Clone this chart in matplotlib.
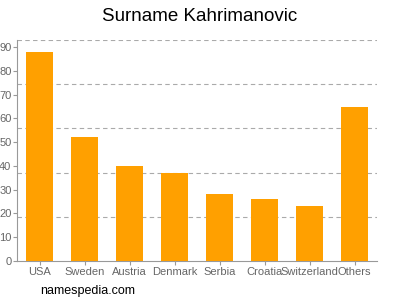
import numpy as np
import matplotlib.pyplot as plt

plt.rcParams["font.family"] = ["Liberation Sans", "DejaVu Sans"]

countries = ["USA", "Sweden", "Austria", "Denmark", "Serbia", "Croatia", "Switzerland", "Others"]
counts = [88, 52, 40, 37, 28, 26, 23, 65]

ymax = 93
fig = plt.figure(figsize=(4, 3), dpi=100)
ax = fig.add_axes([0.0425, 0.13, 0.9, 0.7367])

x = np.arange(len(countries))
ax.bar(x, counts, width=0.62, color="#ffa000", zorder=3)

ax.set_xlim(-0.5, len(countries) - 0.5)
ax.set_ylim(0, ymax)
ax.set_yticks(range(0, 91, 10))
ax.set_xticks(x)
ax.set_xticklabels(countries)

for k in range(1, 6):
    ax.axhline(ymax * k / 5, color="#aaaaaa", linestyle=(0, (4, 3)), linewidth=0.8, zorder=1)

for s in ["top", "right"]:
    ax.spines[s].set_visible(False)
for s in ["left", "bottom"]:
    ax.spines[s].set_color("#999999")
ax.tick_params(colors="#999999", labelcolor="#666666", labelsize=8, length=3, width=0.8, pad=1)

fig.text(0.5, 0.945, "Surname Kahrimanovic", ha="center", va="center", fontsize=13.5)
fig.text(0.1, 0.03, "namespedia.com", ha="left", va="center", fontsize=9)

fig.savefig("out.png", dpi=100)
